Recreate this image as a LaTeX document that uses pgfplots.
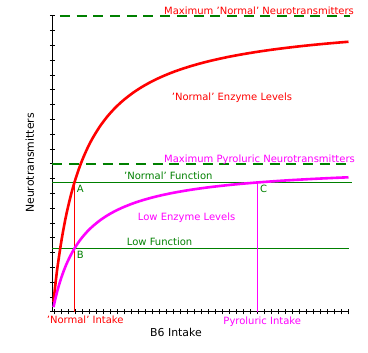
\documentclass[border=0pt]{standalone}
\usepackage{pgfplots}
\pgfplotsset{compat=1.18}
\usepackage{fontspec}
\setmainfont{DejaVu Sans}
\definecolor{gr}{HTML}{008000}
\definecolor{mg}{HTML}{FF00FF}
\definecolor{rd}{HTML}{FF0000}
\begin{document}
\begin{tikzpicture}
\useasboundingbox (0,0) rectangle (368pt,353pt);
\begin{axis}[
  at={(52.5pt,41pt)}, anchor=south west,
  scale only axis, width=296pt, height=296pt,
  xmin=0, xmax=296, ymin=0, ymax=20,
  axis x line*=bottom, axis y line*=left,
  axis line style={line width=1pt, black},
  xtick={1.8,8.8,...,296}, ytick={0,1,...,20},
  xticklabels={}, yticklabels={},
  tick align=center, major tick length=5pt,
  tick style={line width=1pt, black},
  clip=false,
  every node/.style={font=\fontsize{9.8}{12}\selectfont},
]
% reference lines
\addplot[draw=gr, line width=1.1pt, dash pattern=on 10pt off 6.7pt] coordinates {(7.5,20) (298,20)};
\addplot[draw=gr, line width=1.1pt, dash pattern=on 10pt off 6.7pt] coordinates {(0,10) (298,10)};
\addplot[draw=gr, line width=1pt] coordinates {(0,8.76) (300,8.76)};
\addplot[draw=gr, line width=1pt] coordinates {(0,4.3) (297,4.3)};
\addplot[draw=rd, line width=1pt] coordinates {(22,0) (22,8.76)};
\addplot[draw=mg, line width=1pt] coordinates {(204.8,0) (204.8,8.76)};
% curves
\addplot[draw=rd, line width=2.6pt, smooth] coordinates {
(1,0.685) (2,1.322) (3,1.923) (4.5,2.786) (6,3.509) (8,4.420) (10,5.236) (12.5,6.143) (15,6.944) (18.5,7.923) (22,8.765) (26,9.594) (30,10.309)
(35,11.076) (40,11.730) (47.5,12.550) (55,13.221) (62,13.747) (70,14.257) (80,14.787) (90,15.228) (100,15.601) (110,15.919) (122,16.247) (135,16.544)
(147,16.781) (160,17.003) (175,17.225) (190,17.415) (205,17.582) (220,17.728) (235,17.857) (250,17.973) (262,18.057) (275,18.140) (285,18.199) (296,18.260)};
\addplot[draw=mg, line width=2.6pt, smooth] coordinates {
(1,0.331) (2,0.641) (3,0.932) (4.5,1.335) (6,1.705) (8,2.151) (10,2.551) (12.5,2.998) (15,3.394) (18.5,3.878) (22,4.297) (26,4.710) (30,5.068)
(35,5.452) (40,5.780) (47.5,6.193) (55,6.532) (62,6.798) (70,7.056) (80,7.326) (90,7.550) (100,7.740) (110,7.902) (122,8.069) (135,8.222)
(147,8.343) (160,8.457) (175,8.570) (190,8.668) (205,8.753) (220,8.828) (235,8.895) (250,8.954) (262,8.997) (275,9.040) (285,9.071) (296,9.102)};
% texts
\node[rd, anchor=base west, inner sep=0pt] at (axis cs:111.5,20.07) {Maximum 'Normal' Neurotransmitters};
\node[mg, anchor=base west, inner sep=0pt] at (axis cs:111.5,10.07) {Maximum Pyroluric Neurotransmitters};
\node[gr, anchor=base west, inner sep=0pt] at (axis cs:71.5,8.92) {'Normal' Function};
\node[gr, anchor=base west, inner sep=0pt] at (axis cs:74.2,4.46) {Low Function};
\node[gr, anchor=base west, inner sep=0pt] at (axis cs:24.2,8.06) {A};
\node[gr, anchor=base west, inner sep=0pt] at (axis cs:24.2,3.63) {B};
\node[gr, anchor=base west, inner sep=0pt] at (axis cs:207.5,8.06) {C};
\node[rd, anchor=base west, inner sep=0pt] at (axis cs:119.2,14.32) {'Normal' Enzyme Levels};
\node[mg, anchor=base west, inner sep=0pt] at (axis cs:85.2,6.17) {Low Enzyme Levels};
\node[rd, anchor=base west, inner sep=0pt] at (axis cs:-5.8,-0.81) {'Normal' Intake};
\node[mg, anchor=base west, inner sep=0pt] at (axis cs:170.8,-0.83) {Pyroluric Intake};
\node[black, anchor=base west, inner sep=0pt, font=\fontsize{10.9}{13}\selectfont] at (axis cs:97.5,-1.67) {B6 Intake};
\node[black, anchor=base, rotate=90, inner sep=0pt, font=\fontsize{10.9}{13}\selectfont] at (axis cs:-18.5,10.07) {Neurotransmitters};
\end{axis}
\end{tikzpicture}
\end{document}
